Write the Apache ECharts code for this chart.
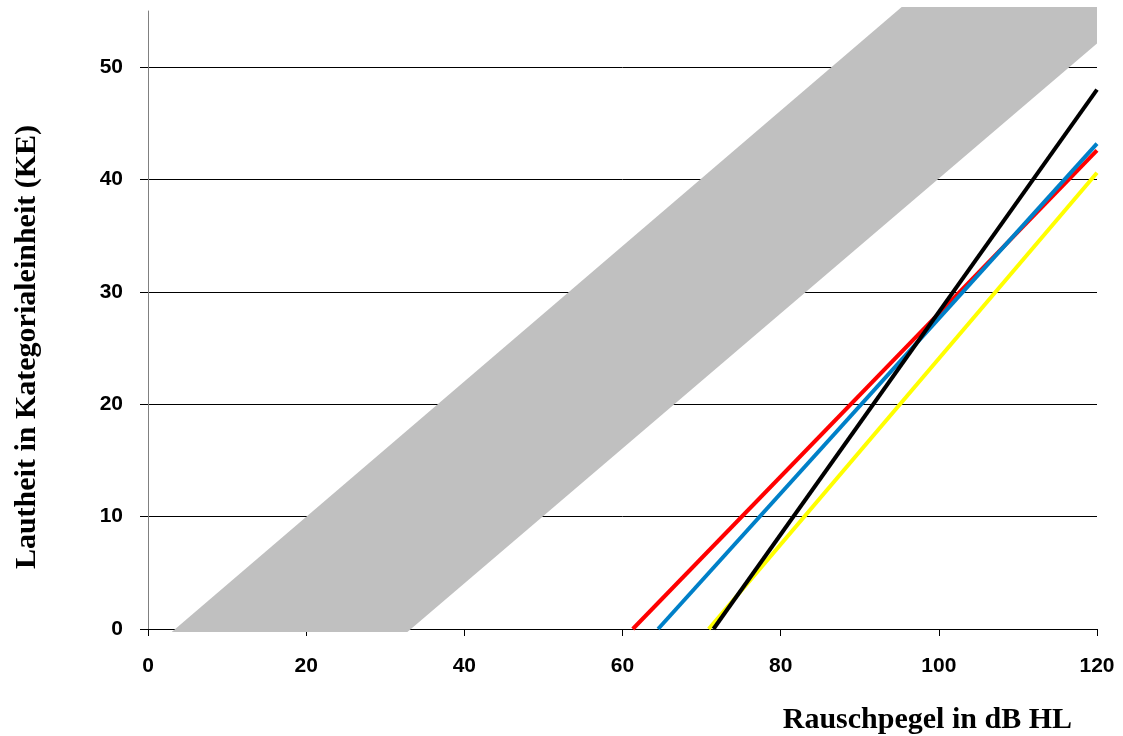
<!DOCTYPE html>
<html>
<head>
<meta charset="utf-8">
<script src="https://cdn.jsdelivr.net/npm/echarts@6/dist/echarts.min.js"></script>
<style>html,body{margin:0;padding:0;background:#fff;}#c{width:1123px;height:736px;}</style>
</head>
<body>
<div id="c"></div>
<script>
// Data
var xTicks = [0, 20, 40, 60, 80, 100, 120];
var yTicks = [0, 10, 20, 30, 40, 50];
// gray normal-hearing band (polygon vertices: x, y)
var bandX = [3.0, 32.8, 120, 120, 95.3];
var bandY = [-0.27, -0.27, 52.1, 55.35, 55.35];
// loudness growth lines (start and end points)
var redX = [61.3, 120], redY = [0, 42.6];
var blueX = [64.5, 120], blueY = [0, 43.2];
var yellowX = [70.9, 120], yellowY = [0, 40.6];
var blackX = [71.5, 120], blackY = [0, 48.0];

function pts(xs, ys) { return xs.map(function (x, i) { return [x, ys[i]]; }); }

var chart = echarts.init(document.getElementById('c'));
var labelFont = { fontFamily: 'Liberation Sans, Arial, sans-serif', fontWeight: 'bold', fontSize: 21, color: '#000' };
var bandData = pts(bandX, bandY);

chart.setOption({
  animation: false,
  grid: { left: 148, right: 26, top: 11, bottom: 107, containLabel: false },
  xAxis: {
    type: 'value', min: 0, max: 120, interval: 20,
    name: 'Rauschpegel in dB HL', nameLocation: 'end',
    nameGap: 0,
    nameTextStyle: { fontFamily: 'Liberation Serif, Times New Roman, serif', fontWeight: 'bold', fontSize: 30, color: '#000', align: 'right', verticalAlign: 'top', padding: [76, 25, 0, 0] },
    axisLine: { show: true, onZero: false, lineStyle: { color: '#000', width: 1 } },
    axisTick: { show: true, inside: false, length: 7, lineStyle: { color: '#000' } },
    axisLabel: Object.assign({ margin: 27, letterSpacing: 2.5 }, labelFont),
    splitLine: { show: false }
  },
  yAxis: {
    type: 'value', min: 0, max: 55, interval: 10,
    name: 'Lautheit in Kategorialeinheit (KE)', nameLocation: 'middle', nameGap: 106, nameRotate: 90,
    nameTextStyle: { fontFamily: 'Liberation Serif, Times New Roman, serif', fontWeight: 'bold', fontSize: 30, color: '#000', padding: [0, 54, 0, 0] },
    axisLine: { show: true, lineStyle: { color: '#808080', width: 1 } },
    axisTick: { show: true, inside: false, length: 8, customValues: yTicks, lineStyle: { color: '#000' } },
    axisLabel: Object.assign({ margin: 25, customValues: yTicks, letterSpacing: 2.5 }, labelFont),
    splitLine: { show: true, lineStyle: { color: '#000', width: 1 } }
  },
  series: [
    {
      type: 'custom', clip: false, z: 1,
      data: [0],
      renderItem: function (params, api) {
        return {
          type: 'polygon',
          shape: { points: bandData.map(function (p) { return api.coord(p); }) },
          style: { fill: '#c0c0c0', stroke: null }
        };
      }
    },
    { type: 'line', data: pts(yellowX, yellowY), symbol: 'none', lineStyle: { color: '#ffff00', width: 4 }, z: 3 },
    { type: 'line', data: pts(redX, redY), symbol: 'none', lineStyle: { color: '#ff0000', width: 4 }, z: 3 },
    { type: 'line', data: pts(blueX, blueY), symbol: 'none', lineStyle: { color: '#0080c8', width: 4 }, z: 3 },
    { type: 'line', data: pts(blackX, blackY), symbol: 'none', lineStyle: { color: '#000', width: 4 }, z: 3 }
  ]
});
</script>
</body>
</html>
